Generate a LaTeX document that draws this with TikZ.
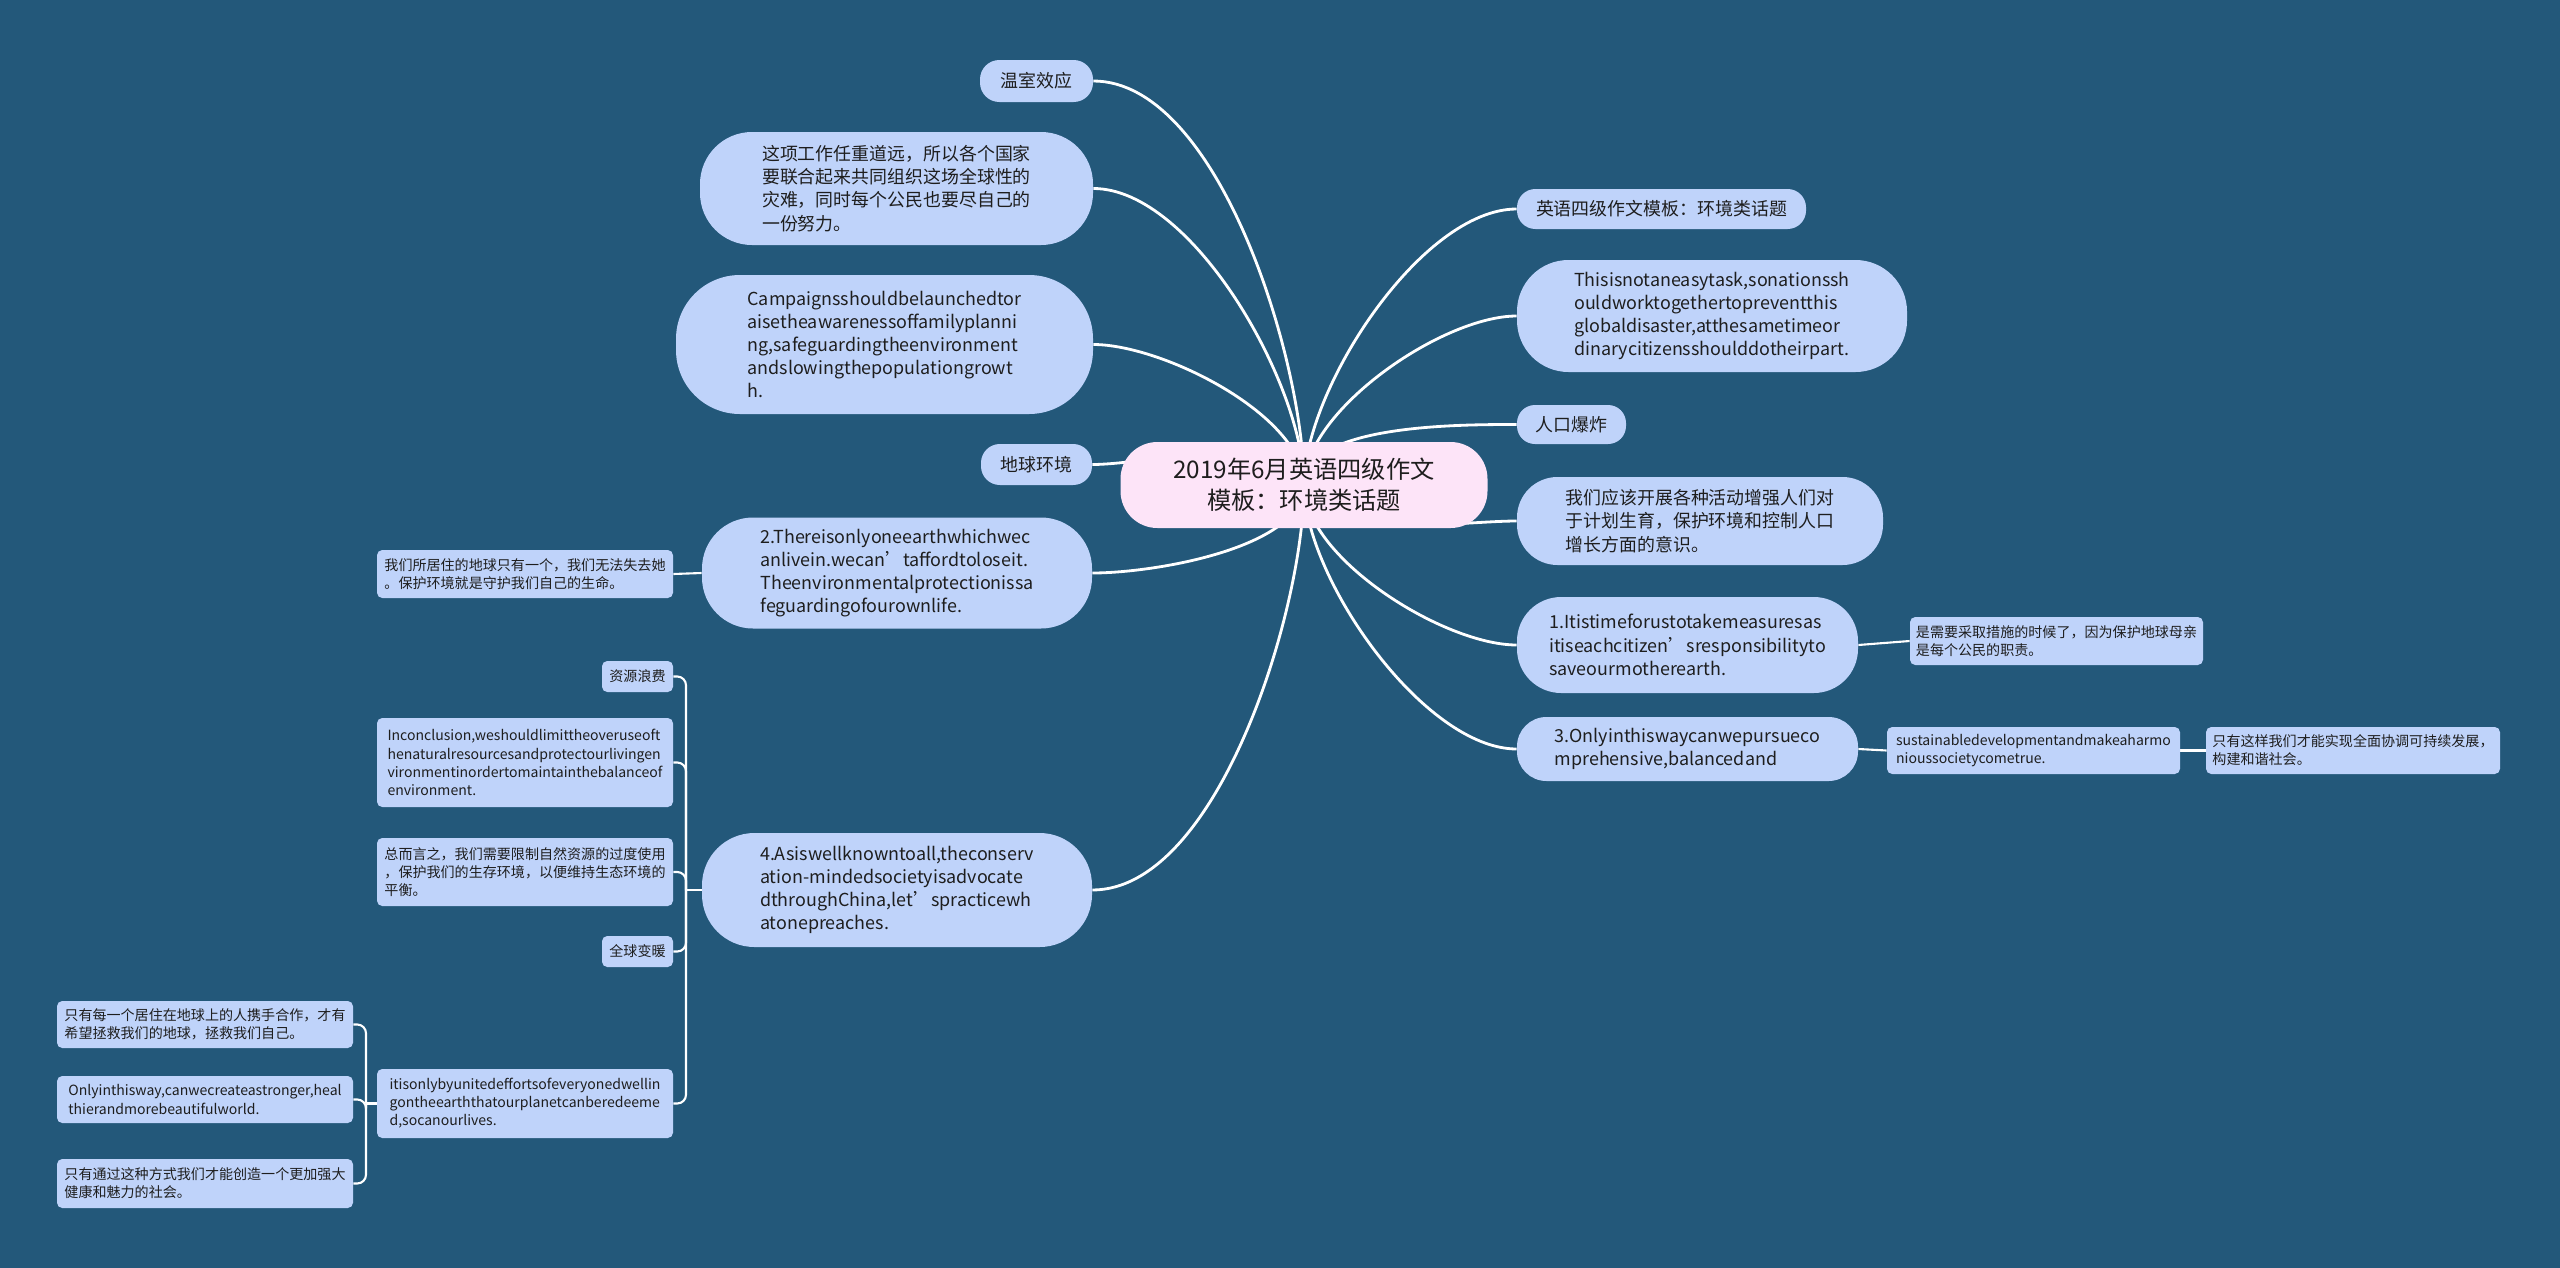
\documentclass[tikz,border=0pt]{standalone}
\usepackage{fontspec}
\setmainfont{Noto Sans CJK SC}
\usepackage{tikz}
\usetikzlibrary{backgrounds}
\definecolor{bgblue}{RGB}{35,88,122}
\definecolor{nodeblue}{RGB}{191,211,250}
\definecolor{rootpink}{RGB}{253,228,248}
\definecolor{txt}{RGB}{30,30,30}
\tikzset{
  topic/.style 2 args={fill=nodeblue,text=txt,align=left,inner sep=0pt,
    font=\fontsize{10.2}{13.2}\selectfont,
    minimum width=#1*0.02cm,minimum height=#2*0.02cm,rounded corners=#2*0.0092cm},
  leaf/.style 2 args={fill=nodeblue,text=txt,align=left,inner sep=0pt,
    font=\fontsize{8}{10.3}\selectfont,
    minimum width=#1*0.02cm,minimum height=#2*0.02cm,rounded corners=3pt},
  centre/.style={fill=rootpink,text=txt,align=center,inner sep=0pt,
    font=\fontsize{13.8}{17.6}\selectfont,
    minimum width=367*0.02cm,minimum height=86*0.02cm,rounded corners=21pt},
  link/.style={draw=white,line width=1.6pt,looseness=0.7},
  sublink/.style={draw=white,line width=1.2pt}
}

\begin{document}
\begin{tikzpicture}[x=0.02cm,y=-0.02cm]
\useasboundingbox (0,0) rectangle (2560,1268);
\begin{pgfonlayer}{background}
\fill[bgblue] (0,0) rectangle (2560,1268);
\end{pgfonlayer}

\node[centre] (root) at (1304,485) {2019年6月英语四级作文\\模板：环境类话题};

\node[topic={113}{42}] (wsxy) at (1036.5,81) {温室效应};
\node[topic={393}{113}] (zxgz) at (896.5,188.5) {这项工作任重道远，所以各个国家\\要联合起来共同组织这场全球性的\\灾难，同时每个公民也要尽自己的\\一份努力。};
\node[topic={417}{139}] (campaign) at (884.5,344.5) {Campaignsshouldbelaunchedtor\\aisetheawarenessoffamilyplanni\\ng,safeguardingtheenvironment\\andslowingthepopulationgrowt\\h.};
\node[topic={111}{41}] (dqhj) at (1036.5,464.5) {地球环境};
\node[topic={390}{111}] (there) at (897,573) {2.Thereisonlyoneearthwhichwec\\anlivein.wecan’taffordtoloseit.\\Theenvironmentalprotectionissa\\feguardingofourownlife.};
\node[topic={390}{114}] (asis) at (897,890) {4.Asiswellknowntoall,theconserv\\ation-mindedsocietyisadvocate\\dthroughChina,let’spracticewh\\atonepreaches.};

\node[leaf={296}{48}] (wmsjz) at (525,574) {我们所居住的地球只有一个，我们无法失去她\\。保护环境就是守护我们自己的生命。};
\node[leaf={71}{31}] (zylf) at (637.5,676.5) {资源浪费};
\node[leaf={296}{89}] (inconc) at (525,762.5) {Inconclusion,weshouldlimittheoveruseoft\\henaturalresourcesandprotectourlivingen\\vironmentinordertomaintainthebalanceof\\environment.};
\node[leaf={296}{68}] (zeyz) at (525,872) {总而言之，我们需要限制自然资源的过度使用\\，保护我们的生存环境，以便维持生态环境的\\平衡。};
\node[leaf={71}{31}] (qqbn) at (637.5,951.5) {全球变暖};
\node[leaf={296}{69}] (itisonly) at (525,1103.5) {itisonlybyunitedeffortsofeveryonedwellin\\gontheearththatourplanetcanberedeeme\\d,socanourlives.};
\node[leaf={296}{47}] (zymyg) at (205,1024.5) {只有每一个居住在地球上的人携手合作，才有\\希望拯救我们的地球，拯救我们自己。};
\node[leaf={296}{47}] (onlyway) at (205,1099.5) {Onlyinthisway,canwecreateastronger,heal\\thierandmorebeautifulworld.};
\node[leaf={296}{49}] (zytg) at (205,1183.5) {只有通过这种方式我们才能创造一个更加强大\\健康和魅力的社会。};

\node[topic={289}{40}] (yysj) at (1661.5,209) {英语四级作文模板：环境类话题};
\node[topic={390}{112}] (thisis) at (1712,316) {Thisisnotaneasytask,sonationssh\\ouldworktogethertopreventthis\\globaldisaster,atthesametimeor\\dinarycitizensshoulddotheirpart.};
\node[topic={109}{39}] (rkbz) at (1571.5,424.5) {人口爆炸};
\node[topic={366}{88}] (wmyg) at (1700,521) {我们应该开展各种活动增强人们对\\于计划生育，保护环境和控制人口\\增长方面的意识。};
\node[topic={341}{96}] (itstime) at (1687.5,645) {1.Itistimeforustotakemeasuresas\\itiseachcitizen’sresponsibilityto\\saveourmotherearth.};
\node[leaf={293}{48}] (sxy) at (2056.5,641) {是需要采取措施的时候了，因为保护地球母亲\\是每个公民的职责。};
\node[topic={341}{64}] (onlyin) at (1687.5,749) {3.Onlyinthiswaycanwepursueco\\mprehensive,balancedand};
\node[leaf={293}{47}] (sustain) at (2033.5,750.5) {sustainabledevelopmentandmakeaharmo\\nioussocietycometrue.};
\node[leaf={294}{47}] (zyzy) at (2353,750.5) {只有这样我们才能实现全面协调可持续发展，\\构建和谐社会。};

\coordinate (asisfork) at (686,890);
\coordinate (itisfork) at (366,1103.5);

\begin{pgfonlayer}{background}
\foreach \n in {wsxy,zxgz,campaign,dqhj}
  \draw[link] (\n.east) to[out=0,in=90] (root.center);
\foreach \n in {there,asis}
  \draw[link] (\n.east) to[out=0,in=-90] (root.center);
\foreach \n in {yysj,thisis,rkbz}
  \draw[link] (\n.west) to[out=180,in=90] (root.center);
\foreach \n in {wmyg,itstime,onlyin}
  \draw[link] (\n.west) to[out=180,in=-90] (root.center);
\draw[sublink] (there.west) -- (wmsjz.east);
\draw[sublink] (itstime.east) -- (sxy.west);
\draw[sublink] (onlyin.east) -- (sustain.west);
\draw[sublink] (sustain.east) -- (zyzy.west);
\draw[sublink] (asis.west) -- (asisfork);
\foreach \n in {zylf,inconc,zeyz,qqbn,itisonly}
  \draw[sublink,rounded corners=5pt] (asisfork) |- (\n.east);
\draw[sublink] (itisonly.west) -- (itisfork);
\foreach \n in {zymyg,onlyway,zytg}
  \draw[sublink,rounded corners=5pt] (itisfork) |- (\n.east);
\end{pgfonlayer}
\end{tikzpicture}
\end{document}
